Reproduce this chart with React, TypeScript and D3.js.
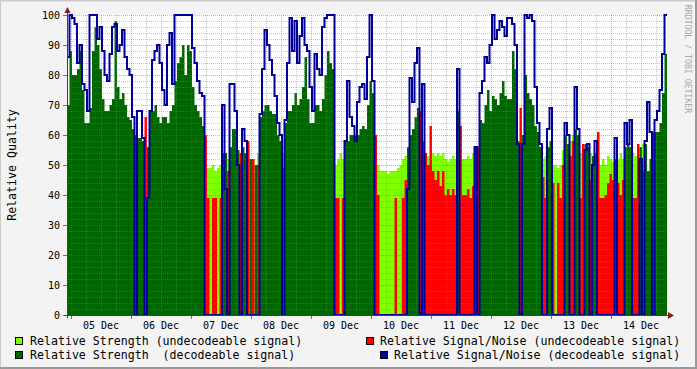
import React from 'react';
import * as d3 from 'd3';

const W = 697;
const H = 369;
const HOUR = 3600 * 1000;
const start = Date.UTC(2010, 11, 4, 22, 24);
const hours = 240;

// 1 = decodeable signal, 0 = undecodeable (one value per hour)
const decoded = [
  1,1,1,1,1,1,1,1,1,1, 1,1,1,1,1,1,1,1,1,1, 1,1,1,1,1,1,1,1,1,1, 1,0,1,1,1,1,1,1,1,1,
  1,1,1,1,1,1,1,1,1,1, 1,1,1,1,1,0,0,0,0,0, 0,0,1,1,0,1,1,1,1,0, 1,1,0,1,0,1,0,1,1,1,
  1,1,1,1,1,1,0,1,1,1, 1,1,1,1,1,1,1,1,1,1, 1,1,1,1,1,1,1,0,0,0, 0,1,1,1,1,1,1,1,1,1,
  1,1,1,0,0,0,0,0,0,0, 0,0,0,0,0,0,1,1,1,1, 1,0,1,0,0,0,0,0,0,0, 0,0,0,0,0,0,1,0,0,0,
  0,0,0,1,0,1,1,1,1,1, 1,1,1,1,1,1,1,1,1,1, 1,0,1,1,1,1,1,1,1,1, 0,0,1,1,0,0,0,0,0,1,
  1,0,0,1,1,0,0,1,1,0, 1,1,0,0,0,0,0,0,0,1, 0,0,0,1,1,1,0,0,0,1, 0,1,1,1,0,1,1,1,1,1,
];

// Relative strength, percent
const strength = [
  70,88,80,80,82,88,75,64,64,69, 88,96,90,82,72,68,68,70,72,98, 76,72,74,70,66,65,62,60,59,59, 58,56,56,68,68,70,66,64,66,66,
  64,68,70,78,84,86,90,80,90,88, 76,70,68,66,63,50,49,49,50,48, 49,50,54,54,52,56,62,62,55,54, 56,54,55,52,52,50,54,66,68,70,
  70,68,67,67,60,58,54,64,68,68, 70,74,70,72,76,86,72,64,64,70, 70,68,72,80,88,84,82,50,52,54, 52,58,58,60,60,60,60,62,63,62,
  70,78,74,53,50,48,48,48,47,48, 48,48,49,50,52,53,56,60,62,66, 69,56,58,53,53,53,54,53,54,53, 54,52,51,52,53,52,68,52,52,52,
  53,52,54,56,50,65,64,70,75,68, 73,72,70,74,78,73,72,72,88,82, 58,56,60,80,74,72,70,63,61,56, 52,53,56,58,50,50,49,50,55,60,
  57,58,60,62,60,54,56,57,56,54, 53,54,52,50,52,50,53,52,51,52, 52,54,52,56,57,56,54,53,55,56, 57,57,48,52,55,61,61,64,74,87,
];

// Relative signal/noise, percent
const snr = [
  86,100,99,97,84,90,77,75,68,100, 100,100,92,96,88,80,78,87,96,97, 88,90,95,86,82,80,66,0,68,68, 59,66,39,68,85,88,90,84,75,70,
  90,94,77,100,100,100,100,100,100,100, 89,84,78,74,73,60,39,0,39,39, 0,39,70,42,48,77,77,68,50,54, 62,58,58,0,52,0,50,67,82,95,
  90,85,80,73,64,60,49,65,84,99, 88,98,84,93,99,90,88,76,68,87, 82,80,96,99,100,100,100,39,39,0, 39,58,78,66,63,58,71,76,77,72,
  86,100,78,60,40,0,0,0,0,0, 0,39,0,0,39,45,42,79,71,84, 89,68,77,54,50,63,48,45,48,43, 48,40,42,40,42,40,82,63,40,40,
  42,39,43,56,56,74,78,86,84,90, 100,92,95,98,96,93,99,99,97,90, 57,69,57,100,99,100,98,76,64,57, 46,39,62,69,44,0,44,39,50,64,
  60,53,58,76,62,39,57,55,57,45, 50,58,61,39,39,40,44,47,45,59, 44,40,45,64,57,65,39,39,57,52, 48,58,71,61,61,65,68,75,87,100,
];

const yTicks = [0, 10, 20, 30, 40, 50, 60, 70, 80, 90, 100];

const legend = [
  { label: 'Relative Strength (undecodeable signal)', color: '#80ff00', x: 15, tx: 30, row: 0 },
  { label: 'Relative Strength  (decodeable signal)', color: '#006600', x: 15, tx: 30, row: 1 },
  { label: 'Relative Signal/Noise (undecodeable signal)', color: '#ff0000', x: 366, tx: 380, row: 0 },
  { label: 'Relative Signal/Noise (decodeable signal)', color: '#000099', x: 380, tx: 394, row: 1 },
];

type Pt = { t: Date; v: number };

export default function App() {
  const x = d3.scaleUtc()
    .domain([new Date(start), new Date(start + hours * HOUR)])
    .range([67, 667]);
  const y = d3.scaleLinear().domain([0, 100]).range([315, 15]);

  // build a series, with a closing point for the last step
  const series = (fn: (i: number) => number): Pt[] => {
    const pts = strength.map((_, i) => ({ t: new Date(start + i * HOUR), v: fn(i) }));
    pts.push({ t: new Date(start + hours * HOUR), v: fn(hours - 1) });
    return pts;
  };
  const strUndec = series(i => (decoded[i] ? 0 : strength[i]));
  const strDec = series(i => (decoded[i] ? strength[i] : 0));
  const snrUndec = series(i => (decoded[i] ? 0 : snr[i]));
  const snrDec = series(i => (decoded[i] ? snr[i] : 0));

  const area = d3.area<Pt>()
    .x(d => x(d.t))
    .y0(y(0))
    .y1(d => y(d.v))
    .curve(d3.curveStepAfter);
  const line = d3.line<Pt>()
    .x(d => x(d.t))
    .y(d => y(d.v))
    .curve(d3.curveStepAfter);

  const [x0, x1] = x.domain();
  const minorX = d3.utcHour.every(6)!.range(x0, x1).filter(d => d.getUTCHours() !== 0);
  const majorX = d3.utcDay.range(x0, x1);
  const labelX = majorX.map(d => new Date(+d + 12 * HOUR)).filter(d => d < x1);
  const fmt = d3.utcFormat('%d %b');
  const minorY = d3.range(2, 100, 2).filter(v => v % 10 !== 0);

  const mono = '"DejaVu Sans Mono", monospace';
  const minorCol = 'rgba(128,128,128,0.45)';
  const majorCol = 'rgba(222,48,48,0.45)';

  return (
    <svg width={W} height={H} style={{ position: 'absolute', left: 0, top: 0 }} fontFamily={mono}>
      <defs>
        <clipPath id="plot">
          <rect x={67} y={10} width={600} height={306} />
        </clipPath>
      </defs>
      <rect x={0} y={0} width={W} height={H} fill="#f3f3f3" />
      <path d={`M0,${H - 1}V0.5H${W - 1}`} fill="none" stroke="#cbcbcb" strokeWidth={2} />
      <path d={`M0,${H - 1}H${W - 1}V0`} fill="none" stroke="#999" strokeWidth={2} />
      <rect x={67} y={15} width={600} height={300} fill="#fff" />

      <g clipPath="url(#plot)">
        <path d={area(strUndec)!} fill="#80ff00" />
        <path d={area(strDec)!} fill="#006600" />
        <path d={area(snrUndec)!} fill="#ff0000" />
      </g>

      <g shapeRendering="crispEdges" strokeDasharray="1 1" strokeWidth={1}>
        {minorY.map(v => (
          <line key={'my' + v} x1={67} x2={667} y1={y(v) + 0.5} y2={y(v) + 0.5} stroke={minorCol} />
        ))}
        {minorX.map(d => (
          <line key={'mx' + +d} x1={Math.round(x(d)) + 0.5} x2={Math.round(x(d)) + 0.5} y1={15} y2={315} stroke={minorCol} />
        ))}
        {yTicks.filter(v => v > 0).map(v => (
          <line key={'My' + v} x1={67} x2={667} y1={y(v) + 0.5} y2={y(v) + 0.5} stroke={majorCol} />
        ))}
        {majorX.map(d => (
          <line key={'Mx' + +d} x1={Math.round(x(d)) + 0.5} x2={Math.round(x(d)) + 0.5} y1={15} y2={315} stroke={majorCol} />
        ))}
      </g>

      <g clipPath="url(#plot)">
        <path d={line(snrDec)!} fill="none" stroke="#000099" strokeWidth={2} />
      </g>

      {/* axis ticks */}
      <g shapeRendering="crispEdges">
        {yTicks.map(v => (
          <line key={'ty' + v} x1={63} x2={67} y1={y(v) + 0.5} y2={y(v) + 0.5} stroke="#c05050" />
        ))}
        {majorX.map(d => (
          <line key={'tx' + +d} x1={Math.round(x(d)) + 0.5} x2={Math.round(x(d)) + 0.5} y1={316} y2={319} stroke="#c05050" />
        ))}
      </g>

      {/* axes */}
      <g shapeRendering="crispEdges" stroke="#404040" strokeWidth={1}>
        <line x1={67.5} x2={67.5} y1={10} y2={318} />
        <line x1={64} x2={670} y1={315.5} y2={315.5} />
      </g>
      <path d="M64.5,13 L70.5,13 L67.5,7 Z" fill="#8b1a1a" />
      <path d="M668,312 L668,319 L674,315.5 Z" fill="#8b1a1a" />

      {/* tick labels */}
      <g fontSize={10} fill="#000">
        {yTicks.map(v => (
          <text key={'ly' + v} x={60} y={y(v) + 0.5} textAnchor="end" dominantBaseline="central">{v}</text>
        ))}
        {labelX.map(d => (
          <text key={'lx' + +d} x={x(d)} y={325} textAnchor="middle" dominantBaseline="central">{fmt(d)}</text>
        ))}
      </g>

      <text transform="translate(12,165) rotate(-90)" textAnchor="middle" dominantBaseline="central" fontSize={11.6} fill="#000">
        Relative Quality
      </text>
      <text transform="translate(688,59) rotate(90)" textAnchor="middle" dominantBaseline="central" fontSize={8.2} fill="#a8a8a8">
        RRDTOOL / TOBI OETIKER
      </text>

      {/* legend */}
      <g fontSize={11.6} fill="#000">
        {legend.map(l => (
          <g key={l.label}>
            <rect x={l.x + 0.5} y={337.5 + l.row * 14} width={7} height={7} fill={l.color} stroke="#000" strokeWidth={1} shapeRendering="crispEdges" />
            <text x={l.tx} y={341 + l.row * 14} dominantBaseline="central" style={{ whiteSpace: 'pre' }}>{l.label}</text>
          </g>
        ))}
      </g>
    </svg>
  );
}
